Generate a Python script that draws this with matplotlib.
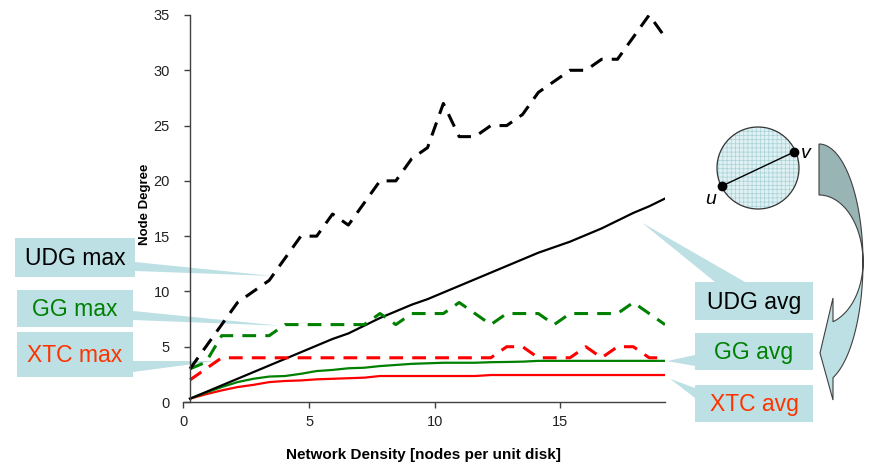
import matplotlib
matplotlib.use("Agg")
import matplotlib.pyplot as plt
from matplotlib.patches import Rectangle, Polygon, Circle
import numpy as np

plt.rcParams['font.family'] = ['Liberation Sans', 'DejaVu Sans']

# ---- data -----------------------------------------------------------------
density = [0.26, 0.89, 1.52, 2.15, 2.78, 3.41, 4.04, 4.67, 5.30, 5.93, 6.56,
           7.19, 7.82, 8.45, 9.08, 9.71, 10.34, 10.97, 11.60, 12.23, 12.86,
           13.49, 14.12, 14.75, 15.38, 16.01, 16.64, 17.27, 17.90, 18.53, 19.16]

udg_max = [3, 5, 7, 9, 10, 11, 13, 15, 15, 17, 16, 18, 20, 20, 22, 23, 27, 24,
           24, 25, 25, 26, 28, 29, 30, 30, 31, 31, 33, 35, 33]
udg_avg = [0.3, 0.9, 1.5, 2.1, 2.7, 3.3, 3.9, 4.5, 5.1, 5.7, 6.2, 6.9, 7.6, 8.2,
           8.8, 9.3, 9.9, 10.5, 11.1, 11.7, 12.3, 12.9, 13.5, 14.0, 14.5, 15.1,
           15.7, 16.4, 17.1, 17.7, 18.4]
gg_max = [3, 3.6, 6, 6, 6, 6, 7, 7, 7, 7, 7, 7, 8, 7, 8, 8, 8, 9, 8, 7, 8, 8, 8,
          7, 8, 8, 8, 8, 9, 8, 7]
gg_avg = [0.3, 0.85, 1.35, 1.8, 2.1, 2.3, 2.35, 2.55, 2.8, 2.9, 3.05, 3.1, 3.25,
          3.35, 3.45, 3.5, 3.55, 3.55, 3.55, 3.6, 3.62, 3.65, 3.72, 3.72, 3.72,
          3.72, 3.72, 3.72, 3.72, 3.72, 3.72]
xtc_max = [2, 3, 4, 4, 4, 4, 4, 4, 4, 4, 4, 4, 4, 4, 4, 4, 4, 4, 4, 4, 5, 5, 4,
           4, 4, 5, 4, 5, 5, 4, 4]
xtc_avg = [0.3, 0.7, 1.05, 1.35, 1.55, 1.8, 1.9, 1.95, 2.05, 2.1, 2.15, 2.2,
           2.35, 2.35, 2.35, 2.35, 2.35, 2.35, 2.35, 2.44, 2.44, 2.44, 2.44,
           2.44, 2.44, 2.44, 2.44, 2.44, 2.44, 2.44, 2.44]

x_ticks = [0, 5, 10, 15]
y_ticks = [0, 5, 10, 15, 20, 25, 30, 35]

BLACK, GREEN, RED, ORANGE = 'black', '#008000', '#FF0000', '#FF3300'
FILL = '#BCE0E4'

# ---- figure / main axes ---------------------------------------------------
W, H = 870, 469
fig = plt.figure(figsize=(W / 100, H / 100), dpi=100)
L, R, B, T = 183.5, 665, 402, 15
ax = fig.add_axes([L / W, 1 - B / H, (R - L) / W, (B - T) / H], zorder=2)
ax.set_facecolor('none')
ax.set_xlim(0, 19.16)
ax.set_ylim(0, 35)

dash = (0, (4.5, 3))
ax.plot(density, xtc_avg, color=RED, lw=1.6)
ax.plot(density, gg_avg, color=GREEN, lw=1.6)
ax.plot(density, udg_avg, color=BLACK, lw=1.6)
ax.plot(density, xtc_max, color=RED, lw=2.2, ls=dash)
ax.plot(density, gg_max, color=GREEN, lw=2.2, ls=dash)
ax.plot(density, udg_max, color=BLACK, lw=2.2, ls=dash)

for s in ('top', 'right'):
    ax.spines[s].set_visible(False)
ax.spines['left'].set_position(('data', density[0]))
for s in ('left', 'bottom'):
    ax.spines[s].set_color('#404040')
    ax.spines[s].set_linewidth(1.0)
ax.set_xticks(x_ticks)
ax.set_yticks(y_ticks)
ax.tick_params(direction='out', length=4.5, width=1, color='#404040',
               labelsize=10.5, labelcolor='#222222')
ax.tick_params(axis='y', pad=10)
ax.tick_params(axis='x', pad=5)

fig.text(424 / W, 1 - 455 / H, 'Network Density [nodes per unit disk]',
         ha='center', va='center', fontsize=11, fontweight='bold')
fig.text(145 / W, 1 - 204 / H, 'Node Degree', rotation=90,
         ha='center', va='center', fontsize=9.5, fontweight='bold')

# ---- overlay in pixel units (origin top-left) ----------------------------
ov = fig.add_axes([0, 0, 1, 1], zorder=1)
ov.set_xlim(0, W)
ov.set_ylim(H, 0)
ov.axis('off')


def px(x, y):
    dx, dy = ax.transData.transform((x, y))
    return dx, H - dy


def callout(box, base, tip, text, color):
    x0, y0, x1, y1 = box
    ov.add_patch(Rectangle((x0, y0), x1 - x0, y1 - y0, fc=FILL, ec='none'))
    ov.add_patch(Polygon([base[0], base[1], px(*tip)], closed=True,
                         fc=FILL, ec='none'))
    ov.text((x0 + x1) / 2, (y0 + y1) / 2 + 1, text, color=color,
            fontsize=16.5, ha='center', va='center')


callout((15, 238, 135, 277), [(135, 262), (135, 271)], (3.52, 11.4), 'UDG max', BLACK)
callout((17, 290, 133, 327), [(133, 311), (133, 320)], (3.84, 6.9), 'GG max', GREEN)
callout((17, 332, 133, 377), [(133, 361), (133, 372)], (1.25, 3.7), 'XTC max', ORANGE)
callout((695, 282, 813, 320), [(715, 282), (745, 282)], (18.25, 16.2), 'UDG avg', BLACK)
callout((695, 333, 813, 370), [(695, 355), (695, 366)], (19.24, 3.7), 'GG avg', GREEN)
callout((695, 385, 813, 422), [(695, 388), (695, 398)], (19.36, 2.1), 'XTC avg', ORANGE)

# ---- unit-disk sketch -----------------------------------------------------
plt.rcParams['hatch.linewidth'] = 0.5
cx, cy, r = 758, 168, 41
ov.add_patch(Circle((cx, cy), r, fc='#DFF1F3', ec='#A8D2D8', lw=0, hatch='++++'))
ov.add_patch(Circle((cx, cy), r, fc='none', ec='#333333', lw=0.9))
u_pt, v_pt = (722, 186), (794, 152)
ov.plot([u_pt[0], v_pt[0]], [u_pt[1], v_pt[1]], color='black', lw=1.0)
ov.plot([u_pt[0], v_pt[0]], [u_pt[1], v_pt[1]], 'o', color='black', ms=6)
ov.text(711, 200, 'u', fontsize=14, style='italic', ha='center', va='center')
ov.text(806, 154, 'v', fontsize=14, style='italic', ha='center', va='center')


# ---- curved arrow ---------------------------------------------------------
def arc(xc, yc, rx, ry, t0, t1, n=60):
    t = np.radians(np.linspace(t0, t1, n))
    return np.column_stack([xc + rx * np.cos(t), yc - ry * np.sin(t)])


ax_c, ay_c, arx = 819, 262, 44
t_end = -np.degrees(np.arccos((833 - ax_c) / arx))
upper = np.vstack([arc(ax_c, ay_c, arx, 118, 90, 0),
                   arc(ax_c, ay_c, arx, 67, 0, 90)])
lower_outer = arc(ax_c, ay_c, arx, 122, 0, t_end)
lower_inner = arc(ax_c, ay_c, arx, 63, t_end, 0)
lower = np.vstack([lower_outer, [(833, 400), (820, 353), (833, 298)], lower_inner])
ov.add_patch(Polygon(lower, closed=True, fc=FILL, ec='#404040', lw=0.8))
ov.add_patch(Polygon(upper, closed=True, fc='#98B4B4', ec='#404040', lw=0.8))

fig.savefig('out.png', dpi=100)
